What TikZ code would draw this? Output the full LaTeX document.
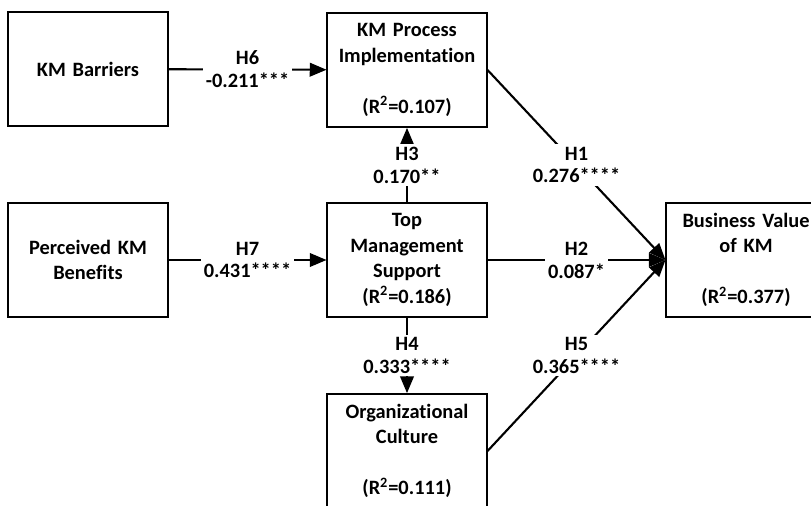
\documentclass[tikz,border=0pt]{standalone}
\usepackage{fontspec}
\setmainfont{Carlito}[Ligatures=NoCommon]
\usetikzlibrary{arrows, positioning}
\tikzset{
    construct/.style={rectangle, minimum width=3.02cm, minimum height=2.28cm, text width=2.95cm, align=center, draw=black, line width=1.1pt, font=\bfseries\fontsize{11.6}{14.5}\selectfont},
    coef/.style={fill=white, inner sep=1.5pt, align=center, font=\bfseries\fontsize{11.6}{13}\selectfont},
    arrow/.style={line width=1.2pt,->,>=triangle 45}
}

\begin{document}
\begin{tikzpicture}[x=0.02cm, y=-0.02cm]
    \useasboundingbox (0,0) rectangle (811,506);
    \node (barriers) [construct] at (88,69) {KM Barriers};
    \node (process) [construct] at (407,70) {KM Process\\Implementation\\~\\(R\textsuperscript{2}=0.107)};
    \node (benefits) [construct] at (88,260) {Perceived KM\\Benefits};
    \node (topmgmt) [construct] at (407,260) {Top\\Management\\Support\\(R\textsuperscript{2}=0.186)};
    \node (culture) [construct] at (407,451) {Organizational\\Culture\\~\\(R\textsuperscript{2}=0.111)};
    \node (value) [construct] at (746,260) {Business Value\\of KM\\~\\(R\textsuperscript{2}=0.377)};

    \draw [arrow] (barriers) -- node[coef] {H6\\-0.211***} (process);
    \draw [arrow] (benefits) -- node[coef] {H7\\0.431****} (topmgmt);
    \draw [arrow] (topmgmt) -- node[coef] {H3\\0.170**} (process);
    \draw [arrow] (topmgmt) -- node[coef] {H4\\0.333****} (culture);
    \draw [arrow] (process.east) -- node[coef] {H1\\0.276****} (value.west);
    \draw [arrow] (topmgmt) -- node[coef] {H2\\0.087*} (value);
    \draw [arrow] (culture.east) -- node[coef] {H5\\0.365****} (value.west);
\end{tikzpicture}
\end{document}
